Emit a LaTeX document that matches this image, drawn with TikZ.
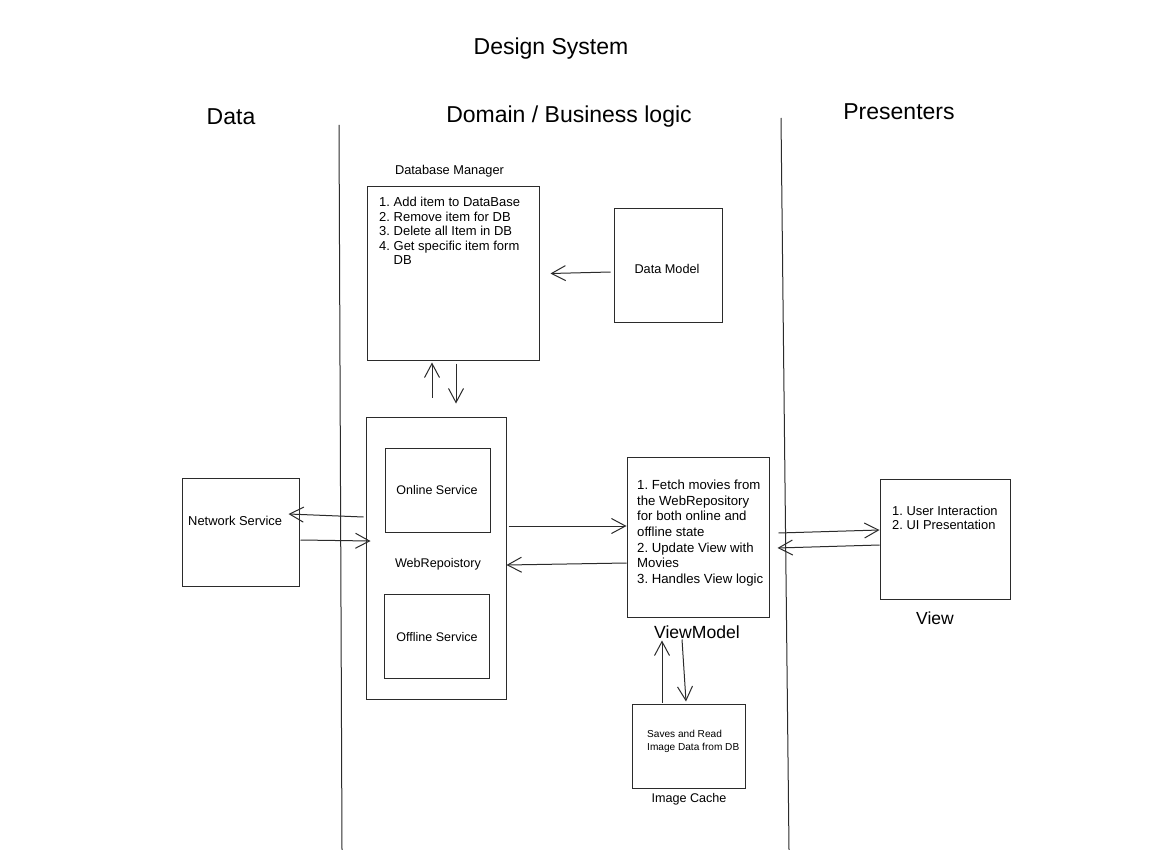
\documentclass[tikz,border=0pt]{standalone}
\usepackage{fontspec}
\setmainfont{Liberation Sans}
\usetikzlibrary{arrows.meta,calc}
\frenchspacing
\definecolor{ink}{HTML}{2B2B2B}
\tikzset{
  box/.style={draw=ink, line width=1pt, inner sep=0pt},
  conn/.style={draw=ink, line width=1pt, -{Straight Barb[length=14pt,width=15pt,line width=1pt]}},
  head/.style={font=\fontsize{23}{27}\selectfont, inner sep=0pt, text=black},
  small/.style={font=\fontsize{13}{15}\selectfont, inner sep=0pt, text=black},
  bigl/.style={font=\fontsize{17.6}{20}\selectfont, inner sep=0pt, text=black},
  divider/.style={draw=ink, line width=1pt}
}
\begin{document}
\begin{tikzpicture}[x=1pt,y=-1pt]
\useasboundingbox (0,0) rectangle (1155,850);
\fill[white] (0,0) rectangle (1155,850);

% headings
\node[head] (title) at (551,49) {Design System};
\node[head] (hdata) at (231,117) {Data};
\node[head] (hdomain) at (569,117) {Domain / Business logic};
\node[head] (hpres) at (899,112) {Presenters};

% dividers
\coordinate (d1t) at (339,125);
\coordinate (d1b) at (342,850);
\coordinate (d2t) at (781,118);
\coordinate (d2b) at (789,850);
\draw[divider] (d1t) -- (d1b);
\draw[divider] (d2t) -- (d2b);

% boxes
\node[box, minimum width=172pt, minimum height=173pt] (dbm) at (453,273.5) {};
\node[box, minimum width=108pt, minimum height=113pt] (dm) at (668,265.5) {};
\node[box, minimum width=140pt, minimum height=282pt] (wr) at (436,558) {};
\node[box, minimum width=105pt, minimum height=84pt] (on) at (437.5,490) {};
\node[box, minimum width=105pt, minimum height=84pt] (off) at (436.5,636) {};
\node[box, minimum width=117pt, minimum height=108pt] (ns) at (240.5,532) {};
\node[box, minimum width=142pt, minimum height=160pt] (vm) at (698,537) {};
\node[box, minimum width=130pt, minimum height=120pt] (vw) at (945,539) {};
\node[box, minimum width=113pt, minimum height=84pt] (ic) at (688.5,746) {};

% texts
\node[small, font=\fontsize{12.8}{15}\selectfont] (dbmlab) at (449.5,171) {Database Manager};
\node[small, anchor=north west, align=left, font=\fontsize{13}{14.5}\selectfont] (dbmtxt) at (379,197)
  {1. Add item to DataBase\\2. Remove item for DB\\3. Delete all Item in DB\\4. Get specific item form\\\phantom{4. }DB};
\node[small, font=\fontsize{12.7}{15}\selectfont] (dmlab) at (667,269) {Data Model};
\node[small, font=\fontsize{12.5}{15}\selectfont] (onlab) at (437,490) {Online Service};
\node[small, font=\fontsize{12.6}{15}\selectfont] (wrlab) at (438,564) {WebRepoistory};
\node[small, font=\fontsize{12.5}{15}\selectfont] (offlab) at (437,637) {Offline Service};
\node[small, anchor=west, font=\fontsize{12.9}{15}\selectfont] (nslab) at (188,521) {Network Service};
\node[small, anchor=north west, align=left, font=\fontsize{13.2}{15.6}\selectfont] (vmtxt) at (637,480)
  {1. Fetch movies from\\the WebRepository\\for both online and\\offline state\\2. Update View with\\Movies\\3. Handles View logic};
\node[bigl] (vmlab) at (697,632) {ViewModel};
\node[small, anchor=north west, align=left, font=\fontsize{12.9}{14}\selectfont] (vwtxt) at (892,506)
  {1. User Interaction\\2. UI Presentation};
\node[bigl, font=\fontsize{17.5}{20}\selectfont] (vwlab) at (935,618) {View};
\node[small, anchor=north west, align=left, font=\fontsize{10.1}{13}\selectfont] (ictxt) at (647,729.5)
  {Saves and Read\\Image Data from DB};
\node[small, font=\fontsize{12.6}{15}\selectfont] (iclab) at (689,799) {Image Cache};

% connectors
\draw[conn] ($(dm.west)+(-3,6.5)$) -- ($(dbm.east)+(11,0)$);
\draw[conn] ($(wr.north)+(-4,-19)$) -- ($(dbm.south)+(-21,2)$);
\draw[conn] ($(dbm.south)+(3,3)$) -- ($(wr.north)+(20,-13)$);
\draw[conn] ($(wr.west)+(-2,-41)$) -- ($(ns.east)+(-11,-18)$);
\draw[conn] ($(ns.east)+(1,8)$) -- ($(wr.west)+(5,-17)$);
\draw[conn] ($(wr.east)+(2,-32)$) -- ($(vm.west)+(0,-11)$);
\draw[conn] ($(vm.west)+(0,26)$) -- ($(wr.east)+(0,7)$);
\draw[conn] ($(vm.east)+(9,-4)$) -- ($(vw.west)+(0,-9)$);
\draw[conn] ($(vw.west)+(0,6)$) -- ($(vm.east)+(8,11)$);
\draw[conn] ($(ic.north)+(-26.5,-1)$) -- ($(vm.south)+(-36,23)$);
\draw[conn] ($(vm.south)+(-16,22)$) -- ($(ic.north)+(-2.5,-2)$);
\end{tikzpicture}
\end{document}
